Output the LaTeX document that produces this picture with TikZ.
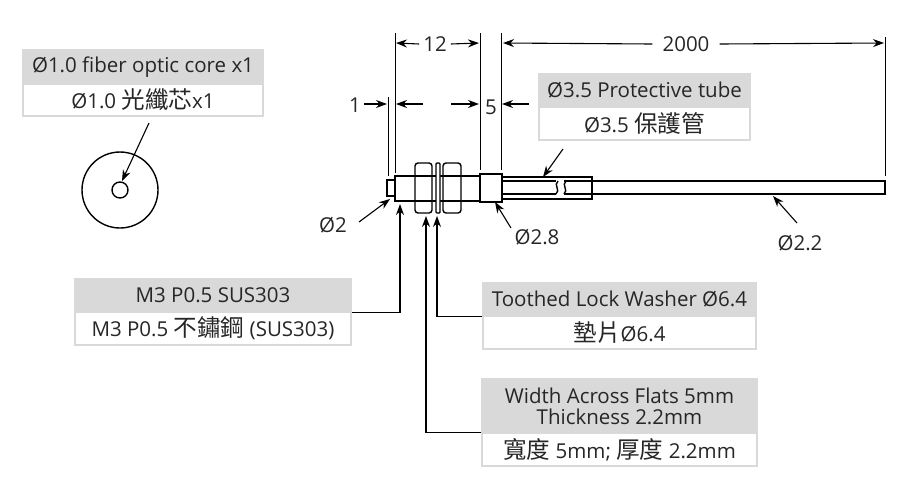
\documentclass[tikz,border=0pt]{standalone}
\usepackage{fontspec}
\setmainfont{Open Sans}
\newfontfamily\cjk[Scale=1.15]{Noto Sans CJK TC}
\usetikzlibrary{arrows.meta}
\definecolor{boxgrey}{HTML}{D9D9D9}
\definecolor{txtgrey}{HTML}{262626}

\begin{document}
\begin{tikzpicture}[x=1pt,y=-1pt,>={Stealth[length=11pt,width=8pt]}]
% --- styles ---------------------------------------------------
\tikzstyle{part}   =[line width=1.4pt]
\tikzstyle{dimline}=[line width=1pt]
\tikzstyle{lead}   =[line width=1.1pt,->]
\tikzstyle{lbl}    =[font=\fontsize{20.5}{21}\selectfont,text=txtgrey,inner sep=0pt]
\tikzstyle{headbox}=[lbl,fill=boxgrey,draw=boxgrey,line width=1.5pt,align=center]
\tikzstyle{bodybox}=[lbl,fill=white,draw=boxgrey,line width=1.5pt,align=center]

\useasboundingbox (0,0) rectangle (900,491);

% --- label boxes ----------------------------------------------
\node[headbox,minimum width=240pt,minimum height=34pt] (corehead) at (143,67) {Ø1.0 fiber optic core x1};
\node[bodybox,minimum width=240pt,minimum height=32pt] (corebody) at (143,100) {Ø1.0 {\cjk 光纖芯}x1};

\node[headbox,minimum width=211pt,minimum height=33pt] (tubehead) at (644.5,90.5) {Ø3.5 Protective tube};
\node[bodybox,minimum width=211pt,minimum height=33pt] (tubebody) at (644.5,123.5) {Ø3.5 {\cjk 保護管}};

\node[headbox,minimum width=276pt,minimum height=33pt] (threadhead) at (213,295.5) {M3 P0.5 SUS303};
\node[bodybox,minimum width=276pt,minimum height=33pt] (threadbody) at (213,328.5) {M3 P0.5 {\cjk 不鏽鋼} (SUS303)};

\node[headbox,minimum width=273pt,minimum height=33pt] (washerhead) at (619.5,299.5) {Toothed Lock Washer Ø6.4};
\node[bodybox,minimum width=273pt,minimum height=33pt] (washerbody) at (619.5,332.5) {{\cjk 墊片}Ø6.4};

\node[headbox,minimum width=275pt,minimum height=54pt] (nuthead) at (619.5,406) {Width Across Flats 5mm\\Thickness 2.2mm};
\node[bodybox,minimum width=275pt,minimum height=33pt] (nutbody) at (619.5,449.5) {{\cjk 寬度} 5mm; {\cjk 厚度} 2.2mm};

% --- fiber cross section ---------------------------------------
\draw[part] (120,190) circle (38);
\draw[part] (120,190) circle (8);
\coordinate (corefrom) at (149,123);
\coordinate (coreto) at (122,181);
\draw[lead] (corefrom) -- (coreto);

% --- sensor body -----------------------------------------------
\draw[part] (395,180) -- (387,180) -- (387,196) -- (395,196);
\draw[part] (395,176) rectangle (480,201);
\draw[part,fill=white,rounded corners=3pt] (415,163) rectangle (432,213);
\draw[part,fill=white,rounded corners=1pt] (436,163) rectangle (440,213);
\draw[part,fill=white,rounded corners=3pt] (443,163) rectangle (461,213);
\draw[part] (415,176) -- (432,176) (415,201) -- (432,201);
\draw[part] (443,176) -- (461,176) (443,201) -- (461,201);
\draw[part,fill=white] (480,174) rectangle (502,202);

% --- tube with break, then cable -------------------------------
\draw[part] (502,177) -- (592,177) -- (592,199) -- (502,199);
\draw[part] (502,181) -- (592,181) (502,194) -- (592,194);
\draw[part,fill=white,draw=none] (556,178) rectangle (564,198);
\draw[part] (558,181) .. controls (553,185) and (561,190) .. (556,194);
\draw[part] (566,181) .. controls (561,185) and (569,190) .. (564,194);
\draw[part] (592,181) -- (885,181) -- (885,194) -- (592,194);

% --- extension lines -------------------------------------------
\draw[dimline] (395,33) -- (395,173);
\draw[dimline] (480,33) -- (480,170);
\draw[dimline] (501,33) -- (501,170);
\draw[dimline] (388,97) -- (388,176);
\draw[dimline] (885,37) -- (885,176);

% --- dimensions ------------------------------------------------
\node[lbl] (dimtw) at (435,44) {12};
\draw[lead] (dimtw.west)+(-4,0) -- (396,43);
\draw[lead] (dimtw.east)+(4,0) -- (479,43);
\node[lbl] (dimlong) at (686,44) {2000};
\draw[lead] (dimlong.west)+(-10,0) -- (503,43);
\draw[lead] (dimlong.east)+(10,0) -- (884,43);
\node[lbl] (dimone) at (355,105) {1};
\draw[lead] (dimone.east)+(3,-1) -- (387,104);
\coordinate (onefrom) at (423,104);
\coordinate (oneto) at (396,104);
\draw[lead] (onefrom) -- (oneto);
\node[lbl] (dimfive) at (491,107) {5};
\draw[lead] (451,104) -- (479,104);
\draw[lead] (529,104) -- (502,104);

% --- diameter callouts -----------------------------------------
\draw[lead] (563,149) -- (543,177);
\node[lbl] (dtwo) at (333,225) {Ø2};
\draw[lead] (359,222) -- (390,199);
\node[lbl] (dtweight) at (537,237) {Ø2.8};
\draw[lead] (511,228) -- (495,202);
\node[lbl] (dtwtwo) at (800,243) {Ø2.2};
\draw[lead] (797,223) -- (773,196);

% --- box leaders -----------------------------------------------
\draw[lead] (threadhead.south east) -| (400,204);
\draw[lead] (washerhead.south west) -| (437,216);
\draw[lead] (nutbody.north west) -| (426,216);

\end{tikzpicture}
\end{document}
